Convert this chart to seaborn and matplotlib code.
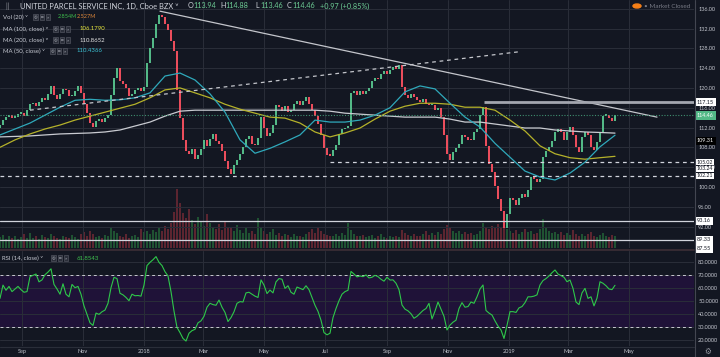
import numpy as np
import pandas as pd
import matplotlib
matplotlib.use("Agg")
import matplotlib.pyplot as plt
import seaborn as sns
from matplotlib.lines import Line2D
from matplotlib.patches import Circle
from matplotlib.transforms import blended_transform_factory as btf

# ---------------- data ----------------
start_date = "2017-08-10"
first_open = 112.0
closes = [
    112.5, 113.5, 114.2, 114.6, 114.0, 114.2, 114.8, 115.0, 114.3, 115.6,
    116.8, 117.0, 116.4, 117.2, 118.0, 117.5, 118.8, 120.3, 118.6, 117.8,
    118.7, 119.8, 119.5, 118.3, 118.4, 119.3, 120.3, 119.0, 116.8, 115.0,
    113.0, 112.2, 113.3, 113.8, 113.2, 113.9, 114.6, 118.5, 122.0, 124.0,
    121.3, 120.8, 120.0, 118.4, 118.8, 119.5, 120.0, 119.4, 120.2, 125.0,
    128.0, 130.0, 133.0, 134.8, 134.3, 133.0, 131.8, 129.5, 127.5, 119.5,
    114.0, 109.5, 107.3, 106.6, 107.6, 105.6, 106.4, 107.7, 109.5, 108.2,
    109.6, 110.6, 109.3, 108.7, 107.2, 105.2, 103.6, 102.6, 104.4, 105.4,
    106.6, 108.0, 109.6, 110.3, 108.6, 108.4, 109.8, 114.2, 112.0, 110.2,
    110.8, 112.6, 116.6, 116.1, 115.4, 116.4, 115.1, 115.5, 116.7, 117.3,
    116.6, 117.4, 118.1, 116.8, 115.6, 114.3, 112.7, 110.4, 107.8, 106.5,
    106.3, 107.4, 108.4, 110.6, 111.7, 112.0, 112.4, 119.0, 119.4, 118.5,
    119.3, 118.8, 119.4, 120.0, 121.4, 122.0, 121.8, 122.9, 123.5, 122.8,
    123.7, 124.2, 123.8, 124.6, 120.2, 118.6, 118.0, 118.8, 118.2, 117.6,
    117.1, 117.8, 116.8, 116.5, 116.6, 115.5, 116.0, 114.2, 110.4, 106.6,
    105.5, 107.0, 107.8, 108.6, 110.5, 110.0, 109.5, 109.4, 111.0, 111.6,
    114.6, 116.2, 108.2, 104.6, 103.0, 100.2, 97.6, 95.2, 91.8, 94.5,
    97.8, 97.4, 96.3, 97.8, 98.5, 98.0, 99.4, 102.0, 101.6, 100.9,
    101.5, 106.0, 107.2, 108.1, 109.2, 111.0, 111.6, 111.0, 109.4, 111.1,
    112.1, 110.4, 108.0, 107.0, 110.1, 111.1, 110.5, 108.1, 107.4, 109.0,
    111.1, 114.4, 114.6, 114.0, 113.4, 114.46,
]
volume_m = [
    2.6, 3.1, 2.2, 2.8, 2.4, 3.0, 2.1, 2.7, 3.3, 2.5,
    3.6, 2.4, 2.9, 2.2, 3.1, 2.6, 2.3, 3.4, 2.8, 2.5,
    2.2, 3.0, 2.6, 2.4, 3.2, 2.7, 2.1, 3.5, 3.8, 3.0,
    4.0, 3.3, 2.6, 2.9, 2.4, 3.1, 2.8, 5.0, 4.2, 3.6,
    3.0, 2.7, 3.3, 2.5, 2.9, 3.2, 2.6, 4.6, 3.8, 4.2,
    3.5, 4.4, 3.9, 4.8, 4.0, 5.3, 4.6, 6.0, 8.8, 14.2,
    11.0, 8.5, 7.2, 9.4, 6.8, 5.9, 7.5, 6.3, 5.4, 8.2,
    6.0, 5.1, 4.5, 5.8, 4.3, 6.6, 5.2, 4.8, 4.1, 5.5,
    4.4, 3.7, 4.9, 3.6, 4.2, 3.5, 7.3, 5.0, 4.0, 3.4,
    3.8, 4.5, 3.2, 3.6, 2.9, 3.4, 3.1, 2.7, 3.3, 2.8,
    3.0, 2.6, 3.4, 3.9, 4.6, 3.6, 4.9, 4.2, 3.5, 3.2,
    3.0, 2.8, 3.3, 2.9, 3.6, 3.1, 6.1, 4.4, 3.5, 3.0,
    2.8, 3.2, 2.6, 2.9, 3.1, 2.5, 2.8, 3.3, 2.7, 2.4,
    2.9, 2.6, 3.0, 2.7, 4.3, 3.6, 3.2, 2.9, 3.4, 3.0,
    2.8, 3.3, 4.1, 3.1, 3.6, 3.2, 3.9, 3.4, 4.6, 5.5,
    4.8, 4.0, 3.6, 4.2, 3.5, 3.9, 3.3, 3.7, 3.1, 3.5,
    4.2, 6.0, 5.2, 4.6, 5.4, 4.8, 5.9, 5.1, 6.4, 4.5,
    4.0, 3.6, 4.3, 3.5, 3.9, 4.6, 3.8, 4.1, 3.4, 3.7,
    4.5, 7.1, 4.8, 4.2, 3.6, 3.9, 3.3, 3.8, 3.2, 3.6,
    3.1, 4.4, 3.5, 3.0, 3.4, 2.9, 3.3, 3.8, 3.0, 2.7,
    3.2, 3.6, 2.9, 2.6, 3.1, 2.85,
]
rsi = [
    51.8, 62.0, 58.0, 61.0, 57.0, 59.0, 61.0, 58.5, 56.5, 57.0,
    68.5, 69.5, 70.5, 64.5, 66.0, 70.0, 72.0, 74.5, 62.5, 59.0,
    55.0, 63.0, 55.0, 53.0, 62.5, 60.0, 61.0, 55.0, 46.0, 39.5,
    33.0, 31.0, 40.5, 39.5, 41.5, 42.8, 48.0, 60.0, 68.0, 67.0,
    55.7, 54.5, 52.5, 50.0, 55.0, 53.8, 54.0, 53.5, 62.0, 77.0,
    79.5, 81.5, 83.9, 79.5, 77.0, 72.3, 69.0, 57.0, 42.0, 29.5,
    25.5, 21.0, 19.0, 25.0, 27.0, 28.0, 33.0, 34.5, 38.0, 45.0,
    48.0, 47.0, 46.5, 50.5, 45.0, 41.0, 34.0, 37.0, 41.5, 48.0,
    49.3, 49.0, 56.0, 56.5, 55.0, 53.5, 52.5, 66.0, 62.0, 55.5,
    58.2, 56.0, 64.5, 67.0, 66.5, 59.5, 61.5, 56.5, 55.0, 60.5,
    59.5, 58.5, 61.5, 58.5, 52.5, 46.5, 41.8, 35.0, 25.5, 23.8,
    25.0, 37.0, 44.0, 50.0, 55.0, 57.0, 58.0, 72.5, 70.5, 68.3,
    69.0, 68.5, 69.8, 67.5, 68.0, 69.5, 68.5, 66.5, 65.0, 68.0,
    65.9, 66.0, 63.4, 58.5, 46.7, 43.5, 42.2, 40.0, 36.5, 38.0,
    40.3, 42.5, 44.0, 48.0, 36.0, 42.0, 49.0, 43.5, 38.0, 27.5,
    31.3, 33.5, 35.0, 44.0, 48.5, 45.0, 45.5, 49.0, 48.0, 53.0,
    59.0, 62.1, 42.5, 40.5, 39.0, 34.5, 30.5, 27.5, 21.0, 31.0,
    41.6, 41.6, 41.0, 44.5, 45.5, 48.5, 53.0, 53.0, 53.5, 54.5,
    62.1, 65.5, 67.0, 69.0, 71.5, 73.6, 70.5, 69.3, 68.0, 64.6,
    65.9, 59.5, 49.0, 47.0, 56.0, 59.5, 51.8, 53.0, 46.0, 52.0,
    64.6, 63.4, 61.5, 59.0, 58.5, 61.85,
]
ma50 = [110.5, 111.7, 112.9, 114.5, 116.1, 117.5, 117.7, 117.5, 117.6, 118.0,
        119.0, 122.4, 123.0, 121.6, 118.8, 115.1, 109.5, 106.8, 107.8, 109.1,
        110.5, 113.5, 113.1, 113.1, 113.5, 114.5, 116.0, 119.2, 120.4, 119.8,
        116.9, 114.1, 112.1, 108.8, 106.0, 103.2, 102.0, 101.4, 102.8, 105.0,
        108.1, 110.44]
ma100 = [108.0, 109.5, 110.7, 111.7, 112.5, 113.5, 114.3, 115.1, 115.9, 116.7,
         118.0, 119.6, 120.0, 119.0, 118.0, 116.7, 115.7, 114.9, 114.1, 113.9,
         112.9, 111.1, 110.1, 110.9, 111.9, 113.7, 115.3, 116.3, 116.9, 116.9,
         116.7, 116.1, 116.1, 115.5, 113.5, 111.3, 108.3, 106.7, 105.9, 105.6,
         105.9, 106.18]
ma200 = [110.1, 110.2, 110.3, 110.5, 110.7, 110.8, 110.9, 111.1, 111.5, 112.3,
         113.1, 114.3, 115.3, 115.5, 115.5, 115.5, 115.5, 115.5, 115.5, 115.5,
         115.5, 115.5, 115.3, 114.9, 114.7, 114.5, 114.3, 114.1, 114.1, 114.1,
         113.7, 113.1, 113.1, 112.7, 112.3, 111.9, 111.9, 111.5, 111.3, 111.1,
         111.0, 110.87]
down_trend = (["2018-01-17", "2019-05-29"], [135.5, 114.1])
up_trend = (["2017-09-09", "2019-01-11"], [115.5, 127.3])
month_ticks = ["2017-09-01", "2017-11-01", "2018-01-01", "2018-03-01", "2018-05-01",
               "2018-07-01", "2018-09-01", "2018-11-01", "2019-01-01", "2019-03-01",
               "2019-05-01"]
month_labels = ["Sep", "Nov", "2018", "Mar", "May", "Jul", "Sep", "Nov", "2019", "Mar", "May"]
price_ticks = [92, 96, 100, 104, 108, 112, 116, 120, 124, 128, 132, 136]
rsi_ticks = [20, 30, 40, 50, 60, 70, 80]

# ---------------- style ----------------
BG = "#131722"
GRID = "#2a2e39"
TXT = "#c3c6ce"
UP, DN = "#53b987", "#eb4d5c"
VUP, VDN = "#1f5232", "#5c2530"

sns.set_theme(style="dark", rc={"axes.facecolor": BG, "figure.facecolor": BG,
                                "savefig.facecolor": BG})
plt.rcParams["font.family"] = ["Lato", "DejaVu Sans"]

W, H = 720, 357
fig = plt.figure(figsize=(7.2, 3.57), dpi=100)
fx = lambda x: x / W
fy = lambda y: 1 - y / H

dates = pd.date_range(start_date, periods=len(closes), freq="3D")
ma_dates = pd.date_range(start_date, periods=len(ma50), freq="15D")
c = np.array(closes)
o = np.r_[first_open, c[:-1]]
up = c >= o

xmin, xmax = pd.Timestamp("2017-08-10"), pd.Timestamp("2019-07-05")
p_top, p_bot = 137.76, 87.66
rect_p = [0, fy(248), fx(694), 248 / H]
rect_r = [0, fy(346), fx(694), 95 / H]

ax_v = fig.add_axes(rect_p)
ax_p = fig.add_axes(rect_p, sharex=ax_v)
ax_r = fig.add_axes(rect_r, sharex=ax_v)
ax_p.patch.set_alpha(0)

for a in (ax_v, ax_p, ax_r):
    for s in a.spines.values():
        s.set_visible(False)
    a.set_xlim(xmin, xmax)
    a.tick_params(length=0)

# volume
ax_v.bar(dates, volume_m, width=2.0, color=np.where(up, VUP, VDN), linewidth=0)
ax_v.set_ylim(0, 60)
ax_v.set_yticks([])
ax_v.tick_params(labelbottom=False)
ax_v.grid(False)

# price grid
ax_p.set_ylim(p_bot, p_top)
ax_p.set_yticks(price_ticks)
ax_p.set_yticklabels([f"{v:.2f}" for v in price_ticks])
ax_p.yaxis.tick_right()
ax_p.tick_params(axis="y", labelsize=4, colors=TXT, pad=3)
ax_p.set_xticks(pd.to_datetime(month_ticks))
ax_p.tick_params(labelbottom=False)
ax_p.grid(True, color=GRID, lw=0.7)

# candles
ax_p.bar(dates, np.maximum(np.abs(c - o), 0.25), bottom=np.minimum(o, c), width=2.0,
         color=np.where(up, UP, DN), linewidth=0, zorder=3)

# moving averages
sns.lineplot(x=ma_dates, y=ma200, ax=ax_p, color="#c9cbd1", lw=0.9, zorder=4)
sns.lineplot(x=ma_dates, y=ma100, ax=ax_p, color="#b5b22a", lw=0.9, zorder=4)
sns.lineplot(x=ma_dates, y=ma50, ax=ax_p, color="#2fa9bb", lw=0.9, zorder=4)

# drawings
sns.lineplot(x=pd.to_datetime(down_trend[0]), y=down_trend[1], ax=ax_p, color="#c4c6cc", lw=0.9, zorder=5)
ax_p.plot(pd.to_datetime(up_trend[0]), up_trend[1], color="#c4c6cc", lw=0.9, ls=(0, (3, 3)), zorder=5)
ax_p.hlines(117.15, pd.Timestamp("2018-12-07"), xmax, color="#a3a6af", lw=2.0, zorder=5)
ax_p.hlines(105.02, pd.Timestamp("2018-07-06"), xmax, color="#d1d4dc", lw=0.9, ls=(0, (3, 3)), zorder=5)
ax_p.axhline(102.21, color="#d1d4dc", lw=0.9, ls=(0, (3, 3)), zorder=5)
ax_p.axhline(93.16, color="#d1d4dc", lw=0.9, zorder=5)
ax_p.axhline(89.33, color="#d1d4dc", lw=0.9, zorder=5)
ax_p.axhline(114.46, color="#3f8f70", lw=0.8, ls=(0, (1, 1.5)), zorder=5)

# price labels on the right scale
tr = btf(fig.transFigure, ax_p.transData)
def plabel(v, txt, fc, tc, z=10, pad=0.3, size=4):
    ax_p.text(fx(697), v, txt, transform=tr, fontsize=size, color=tc, va="center", ha="left",
              clip_on=False, zorder=z,
              bbox=dict(boxstyle=f"square,pad={pad}", fc=fc, ec="none"))
plabel(117.15, "117.15", "#ffffff", "#131722")
plabel(114.46, "114.46", "#53b987", "#ffffff")
plabel(109.31, "109.31", "#000000", "#ffffff")
plabel(105.02, "105.02", "#ffffff", "#131722", pad=0.15, size=3.8)
plabel(103.62, "103.24", "#ffffff", "#131722", 9, pad=0.15, size=3.8)
plabel(102.21, "102.21", "#ffffff", "#131722", 11, pad=0.15, size=3.8)
plabel(93.16, "93.16", "#ffffff", "#131722")
plabel(89.33, "89.33", "#ffffff", "#131722")
plabel(87.55, "87.55", "#ffffff", "#131722")

# RSI pane
r_top, r_bot = 88.2, 15.2
ax_r.set_ylim(r_bot, r_top)
ax_r.axhspan(30, 70, color="#1f1238", lw=0, zorder=0)
sns.lineplot(x=dates, y=rsi, ax=ax_r, color="#2ec84a", lw=0.8, zorder=4)
ax_r.axhline(70, color="#c8c8d0", lw=0.7, ls=(0, (3, 3)), zorder=3)
ax_r.axhline(30, color="#c8c8d0", lw=0.7, ls=(0, (3, 3)), zorder=3)
ax_r.set_yticks(rsi_ticks)
ax_r.set_yticklabels([f"{v:.4f}" for v in rsi_ticks])
ax_r.yaxis.tick_right()
ax_r.tick_params(axis="y", labelsize=4, colors=TXT, pad=3)
ax_r.set_xticks(pd.to_datetime(month_ticks))
ax_r.set_xticklabels(month_labels)
ax_r.tick_params(axis="x", labelsize=4, colors=TXT, pad=2.5)
ax_r.grid(True, color=GRID, lw=0.7)
ax_r.set_xlabel("")
ax_r.set_ylabel("")
ax_p.set_xlabel("")
ax_p.set_ylabel("")

# frame lines
fig.add_artist(Line2D([fx(694.5)] * 2, [0, 1], transform=fig.transFigure, color="#434651", lw=0.8))
fig.add_artist(Line2D([0, fx(694)], [fy(249.5)] * 2, transform=fig.transFigure, color="#3d2f36", lw=1.2))
fig.add_artist(Line2D([0, fx(694)], [fy(346.5)] * 2, transform=fig.transFigure, color="#2a2e39", lw=0.8))

# header texts
def t(x, y, s, col=TXT, size=4.3, **kw):
    fig.text(fx(x), fy(y), s, color=col, fontsize=size, va="center", ha="left", **kw)

t(5, 6, "\u2016", "#9598a1", 5)
t(20, 6, "UNITED PARCEL SERVICE INC, 1D, Cboe BZX \u02c5", "#d1d4dc", 5.4)
VAL = "#6fcf97"
for x0, lab, val in [(188, "O", "113.94"), (220, "H", "114.88"), (255, "L", "113.46"), (287, "C", "114.46")]:
    t(x0, 6, lab, "#d1d4dc", 5.2)
    t(x0 + 5.5, 6, val, VAL, 5.2)
t(320, 6, "+0.97 (+0.85%)", VAL, 5.2)

def icons(x0, y):
    for i, s in enumerate(["\u25ce", "\u25a1", "\u00d7"]):
        fig.text(fx(x0 + i * 6.3 + 2.5), fy(y), s, color="#b2b5be", fontsize=3.0, ha="center", va="center",
                 bbox=dict(boxstyle="square,pad=0.25", fc="#2a2e39", ec="#5d606b", lw=0.4))

LEG = "#c8cbd4"
t(3, 17, "Vol (20) \u02c5", LEG)
icons(33, 17)
t(58, 17, "2.854M", "#3fc24e", 4.0)
t(76.5, 17, "2.527M", "#e0883a", 4.0)
t(3, 29, "MA (100, close) \u02c5", LEG)
icons(53, 29)
t(80, 29, "106.1790", "#e6e63c")
t(3, 40, "MA (200, close) \u02c5", LEG)
icons(53, 40)
t(80, 40, "110.8652", "#e6e6e6")
t(3, 51, "MA (50, close) \u02c5", LEG)
icons(50, 51)
t(77, 51, "110.4366", "#3cc3d6")

t(2, 258, "RSI (14, close) \u02c5", LEG)
icons(51, 258)
t(77, 258, "61.8543", "#3fc24e")

# market status
fig.add_artist(Circle((fx(637), fy(6)), 4 / W, transform=fig.transFigure, color="#f57f17", zorder=10))
fig.text(fx(637), fy(6.3), "!", color="#ffffff", fontsize=4.5, ha="center", va="center", fontweight="bold")
t(644, 6, "\u2022 Market Closed", "#787b86", 4.6)
fig.text(fx(708), fy(351), "\u2699", color="#9598a1", fontsize=5.5, ha="center", va="center",
         family="DejaVu Sans")

fig.savefig("out.png", dpi=100, facecolor=BG)
